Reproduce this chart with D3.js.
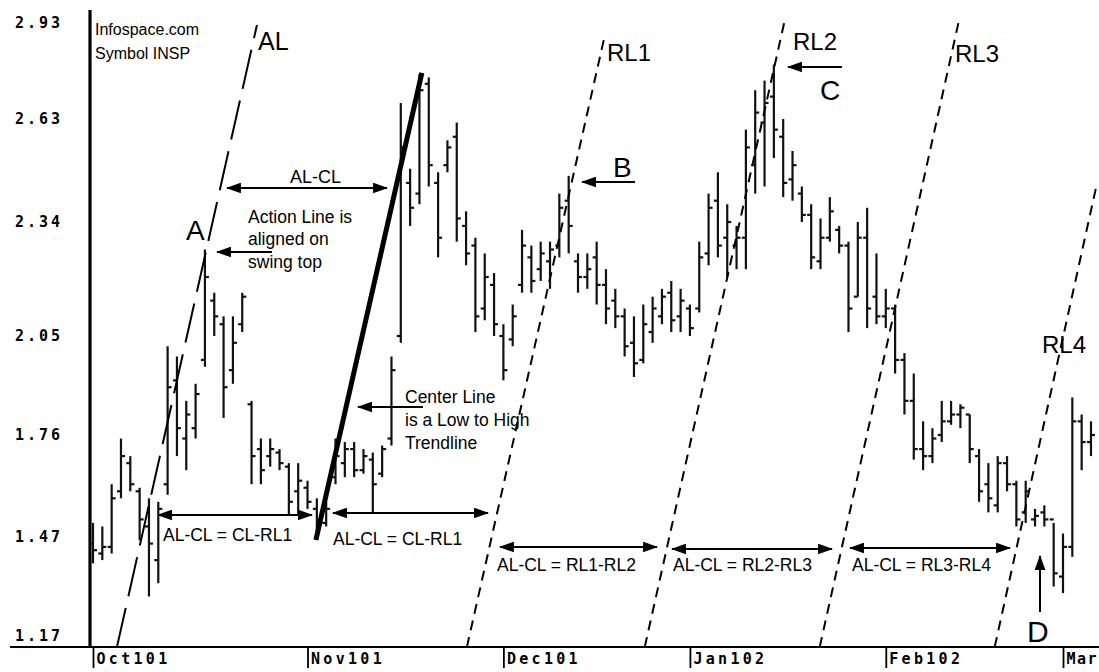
<!DOCTYPE html>
<html>
<head>
<meta charset="utf-8">
<script src="https://cdn.jsdelivr.net/npm/d3@7"></script>
<style>
  body { margin: 0; background: #fff; }
  svg { display: block; }
  .note { font-family: "Liberation Sans", Arial, sans-serif; fill: #000; }
  .tick text { font-family: "DejaVu Sans Mono", monospace; font-weight: bold; font-size: 15px; fill: #000; }
</style>
</head>
<body>
<svg></svg>
<script>
// time axis: month labels and the bar index where each month starts
const months = ["Oct101", "Nov101", "Dec101", "Jan102", "Feb102", "Mar"];
const monthStart = [0, 23, 44, 64, 85, 104];

// price axis labels
const priceTicks = [1.17, 1.47, 1.76, 2.05, 2.34, 2.63, 2.93];

// daily bars, Oct 1 2001 .. early Mar 2002
const high = [
  1.51, 1.50, 1.62, 1.75, 1.70, 1.61, 1.58, 1.57, 2.02, 1.99, 1.86, 1.91, 2.27, 2.16, 2.10, 2.10, 2.16, 1.86, 1.75, 1.75, 1.72, 1.68, 1.68, 1.63, 1.58, 1.57,
  1.75, 1.74, 1.74, 1.72, 1.71, 1.73, 1.99, 2.68, 2.49, 2.77, 2.76, 2.48, 2.57, 2.62, 2.37, 2.30, 2.26, 2.21, 2.08, 2.13,
  2.32, 2.28, 2.29, 2.29, 2.42, 2.47, 2.26, 2.26, 2.29, 2.22, 2.17, 2.12, 2.10, 2.13, 2.15, 2.17, 2.19, 2.17,
  2.13, 2.29, 2.42, 2.48, 2.39, 2.33, 2.60, 2.72, 2.75, 2.80, 2.63, 2.54, 2.44, 2.39, 2.35, 2.41, 2.33, 2.29, 2.34, 2.38, 2.26,
  2.17, 2.13, 2.00, 1.94, 1.80, 1.78, 1.86, 1.86, 1.85, 1.82, 1.72, 1.68, 1.70, 1.70, 1.63, 1.63, 1.55, 1.56, 1.51,
  1.48, 1.87, 1.82, 1.80
];
const low = [
  1.39, 1.40, 1.42, 1.58, 1.60, 1.46, 1.29, 1.33, 1.59, 1.70, 1.66, 1.75, 1.96, 2.05, 1.81, 1.91, 2.06, 1.62, 1.62, 1.67, 1.66, 1.53, 1.53, 1.55, 1.47, 1.50,
  1.62, 1.64, 1.64, 1.65, 1.54, 1.64, 1.73, 2.03, 2.33, 2.39, 2.44, 2.25, 2.48, 2.29, 2.23, 2.06, 2.09, 2.05, 1.92, 2.02,
  2.16, 2.16, 2.19, 2.17, 2.25, 2.26, 2.16, 2.17, 2.13, 2.08, 2.07, 1.99, 1.93, 1.97, 2.03, 2.08, 2.06, 2.06,
  2.05, 2.11, 2.23, 2.25, 2.20, 2.22, 2.22, 2.42, 2.44, 2.52, 2.41, 2.40, 2.34, 2.22, 2.22, 2.29, 2.26, 2.06, 2.15, 2.07, 2.08,
  2.07, 1.94, 1.82, 1.69, 1.66, 1.68, 1.74, 1.79, 1.78, 1.68, 1.57, 1.54, 1.54, 1.60, 1.50, 1.51, 1.50, 1.50, 1.32,
  1.30, 1.41, 1.66, 1.70
];
const open = [
  1.45, 1.42, 1.44, 1.60, 1.68, 1.60, 1.50, 1.40, 1.62, 1.92, 1.75, 1.78, 1.98, 2.14, 2.08, 1.95, 2.08, 1.85, 1.72, 1.70, 1.71, 1.67, 1.60, 1.61, 1.55, 1.51,
  1.64, 1.68, 1.72, 1.66, 1.69, 1.65, 1.75, 2.05, 2.45, 2.42, 2.74, 2.45, 2.50, 2.58, 2.33, 2.28, 2.12, 2.18, 2.05, 2.04,
  2.18, 2.25, 2.22, 2.24, 2.28, 2.40, 2.24, 2.20, 2.25, 2.18, 2.14, 2.10, 2.03, 1.98, 2.06, 2.10, 2.16, 2.10,
  2.12, 2.12, 2.26, 2.40, 2.30, 2.28, 2.30, 2.50, 2.62, 2.70, 2.58, 2.46, 2.42, 2.36, 2.24, 2.30, 2.32, 2.28, 2.15, 2.30, 2.15,
  2.10, 2.12, 1.98, 1.86, 1.72, 1.70, 1.76, 1.80, 1.82, 1.82, 1.70, 1.62, 1.56, 1.68, 1.62, 1.54, 1.52, 1.54, 1.52,
  1.35, 1.44, 1.80, 1.74
];
const close = [
  1.43, 1.44, 1.58, 1.70, 1.62, 1.52, 1.45, 1.55, 1.90, 1.78, 1.82, 1.88, 2.20, 2.10, 1.90, 2.03, 2.15, 1.70, 1.66, 1.72, 1.68, 1.57, 1.63, 1.57, 1.50, 1.55,
  1.70, 1.72, 1.66, 1.70, 1.62, 1.72, 1.95, 2.55, 2.38, 2.72, 2.50, 2.30, 2.55, 2.35, 2.26, 2.10, 2.20, 2.08, 1.95, 2.10,
  2.28, 2.19, 2.26, 2.27, 2.38, 2.33, 2.20, 2.22, 2.18, 2.12, 2.10, 2.02, 1.97, 2.08, 2.12, 2.15, 2.09, 2.14,
  2.07, 2.25, 2.38, 2.28, 2.34, 2.30, 2.55, 2.65, 2.68, 2.60, 2.45, 2.50, 2.36, 2.25, 2.30, 2.37, 2.28, 2.12, 2.30, 2.12, 2.10,
  2.12, 1.98, 1.86, 1.72, 1.70, 1.75, 1.80, 1.82, 1.84, 1.72, 1.60, 1.58, 1.68, 1.62, 1.52, 1.60, 1.53, 1.52, 1.36,
  1.44, 1.80, 1.74, 1.76
];

// Action line, center line and reaction lines: [bar index, price] at each end
const lineNames = ["AL", "CL", "RL1", "RL2", "RL3", "RL4"];
const lineFrom = [[2.57, 1.137], [23.9, 1.461], [40.09, 1.137], [59.16, 1.137], [77.92, 1.137], [96.68, 1.137]];
const lineTo = [[17.58, 2.924], [35.26, 2.774], [54.88, 2.892], [74.17, 2.939], [92.93, 2.949], [107.6, 2.444]];

const W = 1099, H = 672;
const svg = d3.select("svg").attr("width", W).attr("height", H);

const x = d3.scaleLinear().domain([0, 104]).range([93, 1063]);
// the scanned price axis is not quite even, so map each label to where it sits
const y = d3.scaleLinear().domain(priceTicks).range([636, 537, 435, 336, 222, 119, 23]);

const defs = svg.append("defs");
defs.append("marker")
    .attr("id", "head")
    .attr("viewBox", "0 0 14 10")
    .attr("refX", 13).attr("refY", 5)
    .attr("markerWidth", 15).attr("markerHeight", 11)
    .attr("markerUnits", "userSpaceOnUse")
    .attr("orient", "auto-start-reverse")
    .append("path").attr("d", "M0,0L14,5L0,10Z").attr("fill", "#000");

// axes
const yAxis = svg.append("g")
    .attr("transform", "translate(63,0)")
    .call(d3.axisLeft(y).tickValues(priceTicks).tickSize(0).tickPadding(0).tickFormat(d3.format(".2f")));
yAxis.select(".domain").remove();
yAxis.selectAll("text").style("letter-spacing", "3px");

const xAxis = svg.append("g")
    .attr("transform", "translate(0,647)")
    .call(d3.axisBottom(x).tickValues(monthStart).tickSize(21).tickFormat((d, i) => months[i]));
xAxis.select(".domain").remove();
xAxis.selectAll("line").attr("stroke", "#000").attr("stroke-width", 1.8);
xAxis.selectAll("text")
    .attr("x", 3).attr("y", 6).attr("dy", "0.71em")
    .style("text-anchor", "start")
    .style("letter-spacing", (d, i) => i === months.length - 1 ? "1.5px" : "3.3px");

svg.append("line").attr("x1", 10).attr("x2", W).attr("y1", 647).attr("y2", 647)
    .attr("stroke", "#000").attr("stroke-width", 2);
svg.append("line").attr("x1", 90).attr("x2", 90).attr("y1", 10).attr("y2", 647)
    .attr("stroke", "#000").attr("stroke-width", 3.2);

// price bars
const bars = high.map((h, i) => ({ i, h, l: low[i], o: open[i], c: close[i] }));
const barG = svg.append("g").attr("stroke", "#111").attr("stroke-width", 2.2);
barG.selectAll("line.hl").data(bars).join("line").attr("class", "hl")
    .attr("x1", d => x(d.i)).attr("x2", d => x(d.i))
    .attr("y1", d => y(d.h)).attr("y2", d => y(d.l));
barG.selectAll("line.op").data(bars).join("line").attr("class", "op")
    .attr("x1", d => x(d.i) - 4).attr("x2", d => x(d.i))
    .attr("y1", d => y(d.o)).attr("y2", d => y(d.o));
barG.selectAll("line.cl").data(bars).join("line").attr("class", "cl")
    .attr("x1", d => x(d.i)).attr("x2", d => x(d.i) + 4)
    .attr("y1", d => y(d.c)).attr("y2", d => y(d.c));

// trend lines
const lines = lineNames.map((n, k) => ({ n, a: lineFrom[k], b: lineTo[k] }));
svg.append("g").selectAll("line").data(lines).join("line")
    .attr("x1", d => x(d.a[0])).attr("y1", d => y(d.a[1]))
    .attr("x2", d => x(d.b[0])).attr("y2", d => y(d.b[1]))
    .attr("stroke", "#000")
    .attr("stroke-width", d => d.n === "CL" ? 5 : 2)
    .attr("stroke-dasharray", d => d.n === "CL" ? null : (d.n === "AL" ? "40,12" : "10,7"));

// arrows
const arrows = [
  [227, 188, 387, 188, true],
  [272, 252, 217, 252, false],
  [635, 182, 582, 182, false],
  [842, 67, 788, 67, false],
  [1040, 612, 1040, 556, false],
  [423, 407, 358, 407, false],
  [158, 515, 312, 515, true],
  [333, 513, 488, 513, true],
  [500, 547, 657, 547, true],
  [672, 549, 832, 549, true],
  [850, 548, 1010, 548, true]
];
svg.append("g").selectAll("line").data(arrows).join("line")
    .attr("x1", d => d[0]).attr("y1", d => d[1])
    .attr("x2", d => d[2]).attr("y2", d => d[3])
    .attr("stroke", "#000").attr("stroke-width", 2)
    .attr("marker-end", "url(#head)")
    .attr("marker-start", d => d[4] ? "url(#head)" : null);

// text notes
const notes = [
  ["Infospace.com", 95, 35, 16],
  ["Symbol INSP", 95, 59, 16],
  ["AL", 258, 50, 25],
  ["RL1", 607, 61, 24],
  ["RL2", 793, 50, 24],
  ["RL3", 955, 62, 24],
  ["RL4", 1042, 353, 24],
  ["A", 186, 240, 28],
  ["B", 613, 177, 28],
  ["C", 820, 100, 28],
  ["D", 1027, 642, 30],
  ["AL-CL", 290, 183, 18],
  ["Action Line is", 248, 223, 17.5],
  ["aligned on", 248, 245, 17.5],
  ["swing top", 248, 268, 17.5],
  ["Center Line", 405, 403, 17.5],
  ["is a Low to High", 405, 426, 17.5],
  ["Trendline", 405, 449, 17.5],
  ["AL-CL = CL-RL1", 163, 541, 17.5],
  ["AL-CL = CL-RL1", 333, 545, 17.5],
  ["AL-CL = RL1-RL2", 497, 571, 17.5],
  ["AL-CL = RL2-RL3", 673, 571, 17.5],
  ["AL-CL = RL3-RL4", 852, 571, 17.5]
];
svg.append("g").selectAll("text").data(notes).join("text")
    .attr("class", "note")
    .attr("x", d => d[1]).attr("y", d => d[2])
    .style("font-size", d => d[3] + "px")
    .text(d => d[0]);
</script>
</body>
</html>
